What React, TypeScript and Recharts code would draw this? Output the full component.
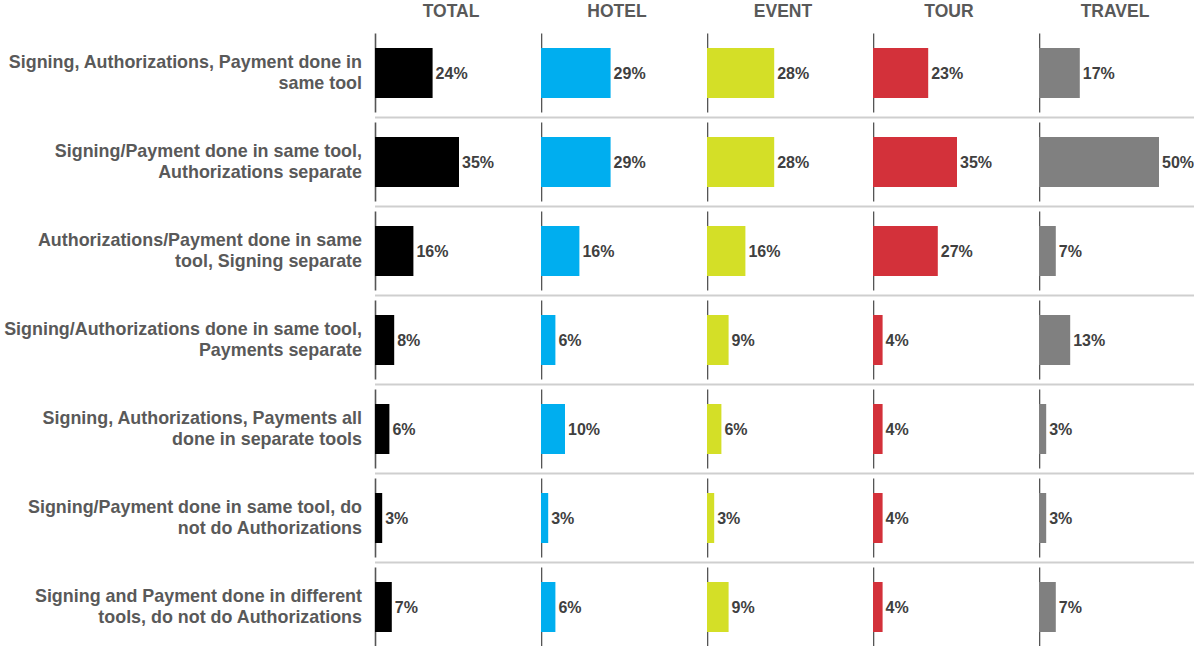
import { BarChart, Bar, XAxis, YAxis, LabelList, Label } from 'recharts';

const categories = [
  'Signing, Authorizations, Payment done in\nsame tool',
  'Signing/Payment done in same tool,\nAuthorizations separate',
  'Authorizations/Payment done in same\ntool, Signing separate',
  'Signing/Authorizations done in same tool,\nPayments separate',
  'Signing, Authorizations, Payments all\ndone in separate tools',
  'Signing/Payment done in same tool, do\nnot do Authorizations',
  'Signing and Payment done in different\ntools, do not do Authorizations',
];

const segments = ['TOTAL', 'HOTEL', 'EVENT', 'TOUR', 'TRAVEL'];

const total = [24, 35, 16, 8, 6, 3, 7];
const hotel = [29, 29, 16, 6, 10, 3, 6];
const event = [28, 28, 16, 9, 6, 3, 9];
const tour = [23, 35, 27, 4, 4, 4, 4];
const travel = [17, 50, 7, 13, 3, 3, 7];

const seriesValues = [total, hotel, event, tour, travel];
const colors = ['#000000', '#00AEEF', '#D4DF27', '#D3313A', '#808080'];

const FONT = '"Liberation Sans", Arial, sans-serif';
const LABEL_W = 375;
const PANEL_W = [166, 166, 166, 166, 155];
const PX_PER_PCT = 2.4;
const HEADER_H = 28;
const CHART_H = 651;
const BAR = 50;
const BAND = (CHART_H - HEADER_H) / categories.length;

const rows = categories.map((c, i) => {
  const r: any = { category: c };
  segments.forEach((s, j) => (r[s] = seriesValues[j][i]));
  return r;
});

// two-line, right-aligned category label
const CategoryTick = (props: any) => {
  const { x, y, payload } = props;
  const lines = String(payload.value).split('\n');
  return (
    <text x={x} y={y} textAnchor="end" fill="#595959" fontSize={17.9} fontWeight="bold" fontFamily={FONT}>
      {lines.map((l, i) => (
        <tspan key={i} x={x} y={y - 5 + i * 21}>{l}</tspan>
      ))}
    </text>
  );
};

// per-row axis segment + row separator
const RowBackground = (p: any) => {
  const pad = (BAND - BAR) / 2;
  const top = p.y - pad;
  const bottom = p.y + p.height + pad;
  return (
    <g key={`bg-${p.index}-${p.y}`}>
      <line x1={p.x + 0.5} x2={p.x + 0.5} y1={top + 5} y2={bottom - 5} stroke="#555" strokeWidth={1.6} />
      <line x1={p.x} x2={p.x + p.width} y1={bottom} y2={bottom} stroke="#cfcfcf" strokeWidth={2} />
    </g>
  );
};

function Panel({ index }: { index: number }) {
  const key = segments[index];
  const plotW = PANEL_W[index];
  const first = index === 0;
  const width = first ? LABEL_W + plotW : plotW;
  return (
    <BarChart
      width={width}
      height={CHART_H}
      data={rows}
      layout="vertical"
      margin={{ top: 0, right: 0, bottom: 0, left: 0 }}
      barSize={BAR}
    >
      <XAxis
        xAxisId={0}
        orientation="top"
        type="number"
        domain={[0, plotW / PX_PER_PCT]}
        allowDataOverflow
        height={HEADER_H}
        tick={false}
        axisLine={false}
        tickLine={false}
      >
        <Label
          value={key}
          position="center"
          dx={76 - plotW / 2}
          dy={-3}
          fill="#595959"
          fontSize={17.5}
          fontWeight="bold"
          fontFamily={FONT}
        />
      </XAxis>
      {first ? (
        <YAxis
          type="category"
          dataKey="category"
          width={LABEL_W}
          axisLine={false}
          tickLine={false}
          tickMargin={7}
          interval={0}
          tick={<CategoryTick />}
        />
      ) : (
        <YAxis type="category" dataKey="category" hide />
      )}
      <Bar dataKey={key} fill={colors[index]} isAnimationActive={false} background={RowBackground}>
        <LabelList
          dataKey={key}
          position="right"
          offset={3}
          formatter={(v: any) => `${v}%`}
          fill="#404040"
          fontSize={16}
          fontWeight="bold"
          fontFamily={FONT}
        />
      </Bar>
    </BarChart>
  );
}

export default function App() {
  return (
    <div
      style={{
        position: 'fixed',
        left: 0,
        top: 0,
        width: 1194,
        height: 646,
        overflow: 'hidden',
        display: 'flex',
        background: '#fff',
        fontFamily: FONT,
      }}
    >
      {segments.map((s, i) => (
        <Panel key={s} index={i} />
      ))}
    </div>
  );
}
